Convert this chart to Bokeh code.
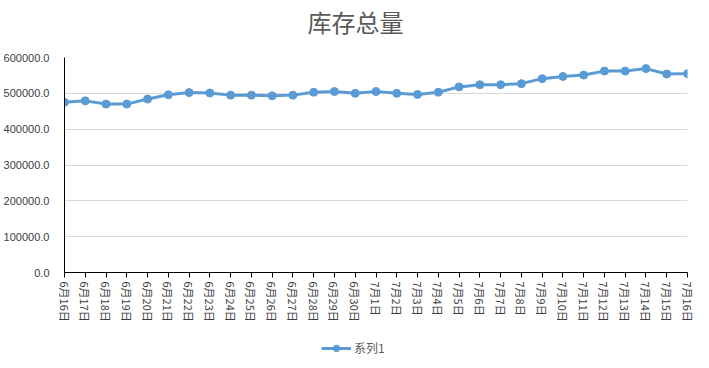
from bokeh.plotting import figure
from bokeh.layouts import column
from bokeh.models import (FixedTicker, NumeralTickFormatter, Legend, LegendItem,
                          Range1d, Label)
from bokeh.embed import file_html
from bokeh.resources import INLINE

dates = ["6月16日", "6月17日", "6月18日", "6月19日", "6月20日", "6月21日", "6月22日",
         "6月23日", "6月24日", "6月25日", "6月26日", "6月27日", "6月28日", "6月29日",
         "6月30日", "7月1日", "7月2日", "7月3日", "7月4日", "7月5日", "7月6日", "7月7日",
         "7月8日", "7月9日", "7月10日", "7月11日", "7月12日", "7月13日", "7月14日",
         "7月15日", "7月16日"]
stock = [475000, 479000, 470000, 470000, 484000, 496000, 502000, 501000, 495000,
         495000, 493000, 495000, 503000, 505000, 500000, 505000, 500000, 497000,
         503000, 518000, 524000, 524000, 527000, 541000, 547000, 551000, 562000,
         562000, 569000, 554000, 555000]
y_ticks = [0, 100000, 200000, 300000, 400000, 500000, 600000]
title_text = "库存总量"
series_name = "系列1"

LINE = "#5b9bd5"
BL, BR, FW = 55, 15, 623
xs = list(range(len(dates)))


def blank(h):
    # strip with the same side borders as the main chart; x data == figure pixel
    f = figure(frame_width=FW, frame_height=h,
               x_range=Range1d(BL, BL + FW), y_range=Range1d(0, h),
               x_axis_type=None, y_axis_type=None,
               min_border_left=BL, min_border_right=BR, min_border_top=0, min_border_bottom=0,
               output_backend="svg", toolbar_location=None)
    f.outline_line_color = None
    f.xgrid.grid_line_color = None
    f.ygrid.grid_line_color = None
    return f


# title strip
H1 = 49
pt = blank(H1)
pt.add_layout(Label(x=346, y=H1 - 21, text=title_text, text_align="center",
                    text_baseline="middle", text_font="Noto Sans CJK SC",
                    text_font_size="24px", text_color="#595959"))

# main chart
p = figure(frame_width=FW, frame_height=215,
           min_border_left=BL, min_border_right=BR, min_border_top=8, min_border_bottom=60,
           x_range=Range1d(0, len(dates) - 1), y_range=Range1d(y_ticks[0], y_ticks[-1]),
           output_backend="svg", toolbar_location=None)

p.outline_line_color = None
p.xgrid.grid_line_color = None
p.ygrid.grid_line_color = "#d9d9d9"
p.ygrid.grid_line_width = 1

p.xaxis.ticker = FixedTicker(ticks=xs)
p.xaxis.major_label_overrides = {i: d for i, d in enumerate(dates)}
p.xaxis.major_label_orientation = "vertical"
p.xaxis.major_label_text_font = "Noto Sans CJK SC"
p.xaxis.major_label_text_font_size = "11px"
p.xaxis.major_label_text_color = "#404040"
p.xaxis.major_tick_in = 0
p.xaxis.major_tick_out = 5
p.xaxis.minor_tick_line_color = None
p.xaxis.axis_line_color = "black"
p.xaxis.major_tick_line_color = "black"
p.xaxis.major_label_standoff = 4

p.yaxis.ticker = FixedTicker(ticks=y_ticks)
p.yaxis.formatter = NumeralTickFormatter(format="0.0")
p.yaxis.major_label_text_font = "Liberation Sans"
p.yaxis.major_label_text_font_size = "11px"
p.yaxis.major_label_text_color = "#404040"
p.yaxis.major_tick_line_color = None
p.yaxis.minor_tick_line_color = None
p.yaxis.axis_line_color = "black"
p.yaxis.major_label_standoff = 9

p.line(xs, stock, line_color=LINE, line_width=3)
p.scatter(xs, stock, size=8, fill_color=LINE, line_color=LINE)

# legend strip (series drawn out of this strip's view; only its legend key shows)
pl = blank(28)
lr = pl.line(xs, stock, line_color=LINE, line_width=3)
sr = pl.scatter(xs, stock, size=8, fill_color=LINE, line_color=LINE)
legend = Legend(items=[LegendItem(label=series_name, renderers=[lr, sr])],
                orientation="horizontal", location=(257, 4),
                border_line_color=None, background_fill_alpha=0,
                label_text_font="Noto Sans CJK SC", label_text_font_size="12px",
                label_text_color="#595959", glyph_width=30, glyph_height=16,
                label_height=16, label_standoff=3, margin=0, padding=2)
pl.add_layout(legend, "center")

layout = column(pt, p, pl, spacing=0)
open("out.html", "w").write(file_html(layout, INLINE))
